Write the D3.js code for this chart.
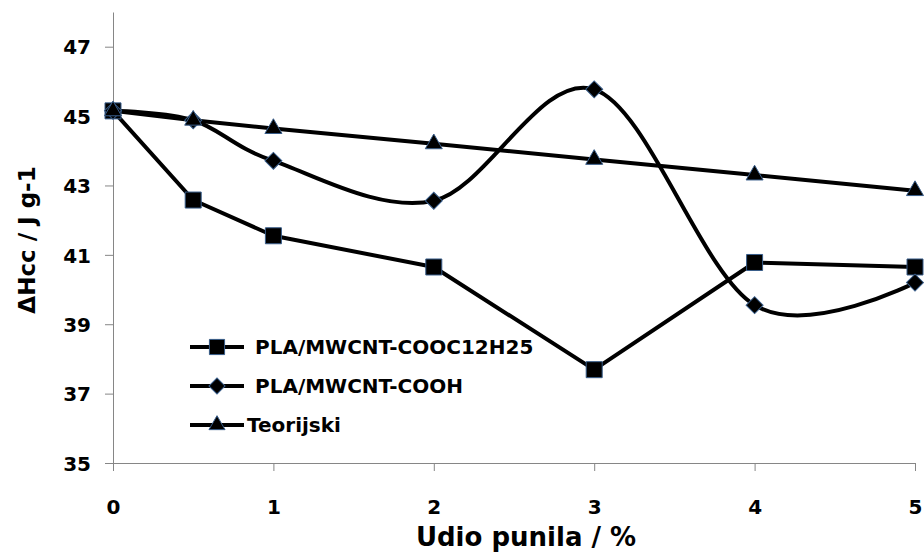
<!DOCTYPE html>
<html lang="en">
<head>
  <meta charset="UTF-8">
  <title>ΔHcc</title>
  <style>
    body { margin: 0; background: #fff; }
    text { font-family: 'DejaVu Sans', sans-serif; font-weight: bold; fill: #000; }
  </style>
</head>
<body>
  <svg id="svg" width="924" height="554"></svg>
  <script src="https://d3js.org/d3.v7.min.js"></script>
  <script>
    // data
    const udio = [0, 0.5, 1, 2, 3, 4, 5]
    const cooc12h25 = [45.15, 42.58, 41.55, 40.65, 37.69, 40.78, 40.65]
    const cooh = [45.15, 44.88, 43.71, 42.56, 45.77, 39.55, 40.2]
    const teorijski = [45.15, 44.88, 44.64, 44.2, 43.75, 43.3, 42.85]
    const yTicks = [35, 37, 39, 41, 43, 45, 47]
    const xTicks = [0, 1, 2, 3, 4, 5]

    const series = [
      { name: 'PLA/MWCNT-COOC12H25', values: cooc12h25, symbol: 'square', smooth: false },
      { name: 'PLA/MWCNT-COOH', values: cooh, symbol: 'diamond', smooth: true },
      { name: 'Teorijski', values: teorijski, symbol: 'triangle', smooth: false }
    ]

    const svg = d3.select('#svg')
    const axisColor = '#868686'

    const xScale = d3.scaleLinear()
      .domain([0, 5])
      .range([113, 915])

    const yScale = d3.scaleLinear()
      .domain([35, 48])
      .range([463, 12])

    // axes
    const yAxis = svg.append('g')
      .attr('transform', 'translate(113,0)')
      .call(d3.axisLeft(yScale).tickValues(yTicks).tickFormat(d3.format('d')).tickSize(8).tickSizeOuter(0).tickPadding(14))
    yAxis.selectAll('path, line').attr('stroke', axisColor)
    yAxis.selectAll('text')
      .style('font-size', '20px')
      .attr('dy', '0.36em')

    const xAxis = svg.append('g')
      .attr('transform', 'translate(0,463)')
      .call(d3.axisBottom(xScale).tickValues(xTicks).tickFormat(d3.format('d')).tickSize(8).tickSizeOuter(0))
    xAxis.selectAll('path, line').attr('stroke', axisColor)
    xAxis.selectAll('text')
      .style('font-size', '20px')
      .attr('y', 44)
      .attr('dy', '0.36em')

    // axis titles
    svg.append('text')
      .text('Udio punila / %')
      .attr('x', 526)
      .attr('y', 546)
      .attr('text-anchor', 'middle')
      .style('font-size', '26px')

    svg.append('text')
      .text('ΔHcc / J g-1')
      .attr('transform', 'translate(35,240) rotate(-90)')
      .attr('text-anchor', 'middle')
      .style('font-size', '23px')

    const symbolPath = (type, scale) => {
      if (type === 'square') return d3.symbol(d3.symbolSquare, 256 * scale)()
      if (type === 'diamond') return d3.symbol(d3.symbolSquare, 144 * scale)()
      return d3.symbol(d3.symbolTriangle, 125 * scale)()
    }
    const symbolRotate = type => type === 'diamond' ? ' rotate(45)' : ''

    // lines
    series.forEach(s => {
      const line = d3.line()
        .x((d, i) => xScale(udio[i]))
        .y(d => yScale(d))
        .curve(s.smooth ? d3.curveCardinal.tension(0) : d3.curveLinear)
      svg.append('path')
        .datum(s.values)
        .attr('d', line)
        .attr('fill', 'none')
        .attr('stroke', '#000')
        .attr('stroke-width', 4)
        .attr('stroke-linejoin', 'round')
    })

    // markers
    series.forEach(s => {
      svg.append('g')
        .selectAll('path')
        .data(s.values)
        .enter()
        .append('path')
        .attr('d', symbolPath(s.symbol, 1))
        .attr('transform', (d, i) => `translate(${xScale(udio[i])},${yScale(d)})` + symbolRotate(s.symbol))
        .attr('fill', '#000')
        .attr('stroke', '#385d8a')
        .attr('stroke-width', 1)
    })

    // legend
    const legend = svg.append('g')
    series.forEach((s, i) => {
      const ly = 347 + i * 39
      legend.append('line')
        .attr('x1', 190).attr('x2', 244)
        .attr('y1', ly).attr('y2', ly)
        .attr('stroke', '#000')
        .attr('stroke-width', 4)
      legend.append('path')
        .attr('d', symbolPath(s.symbol, 0.9))
        .attr('transform', `translate(217,${ly})` + symbolRotate(s.symbol))
        .attr('fill', '#000')
        .attr('stroke', '#385d8a')
        .attr('stroke-width', 1)
      legend.append('text')
        .text(s.name)
        .attr('x', s.symbol === 'triangle' ? 247 : 255)
        .attr('y', ly)
        .attr('dy', '0.36em')
        .style('font-size', '20px')
    })
  </script>
</body>
</html>
